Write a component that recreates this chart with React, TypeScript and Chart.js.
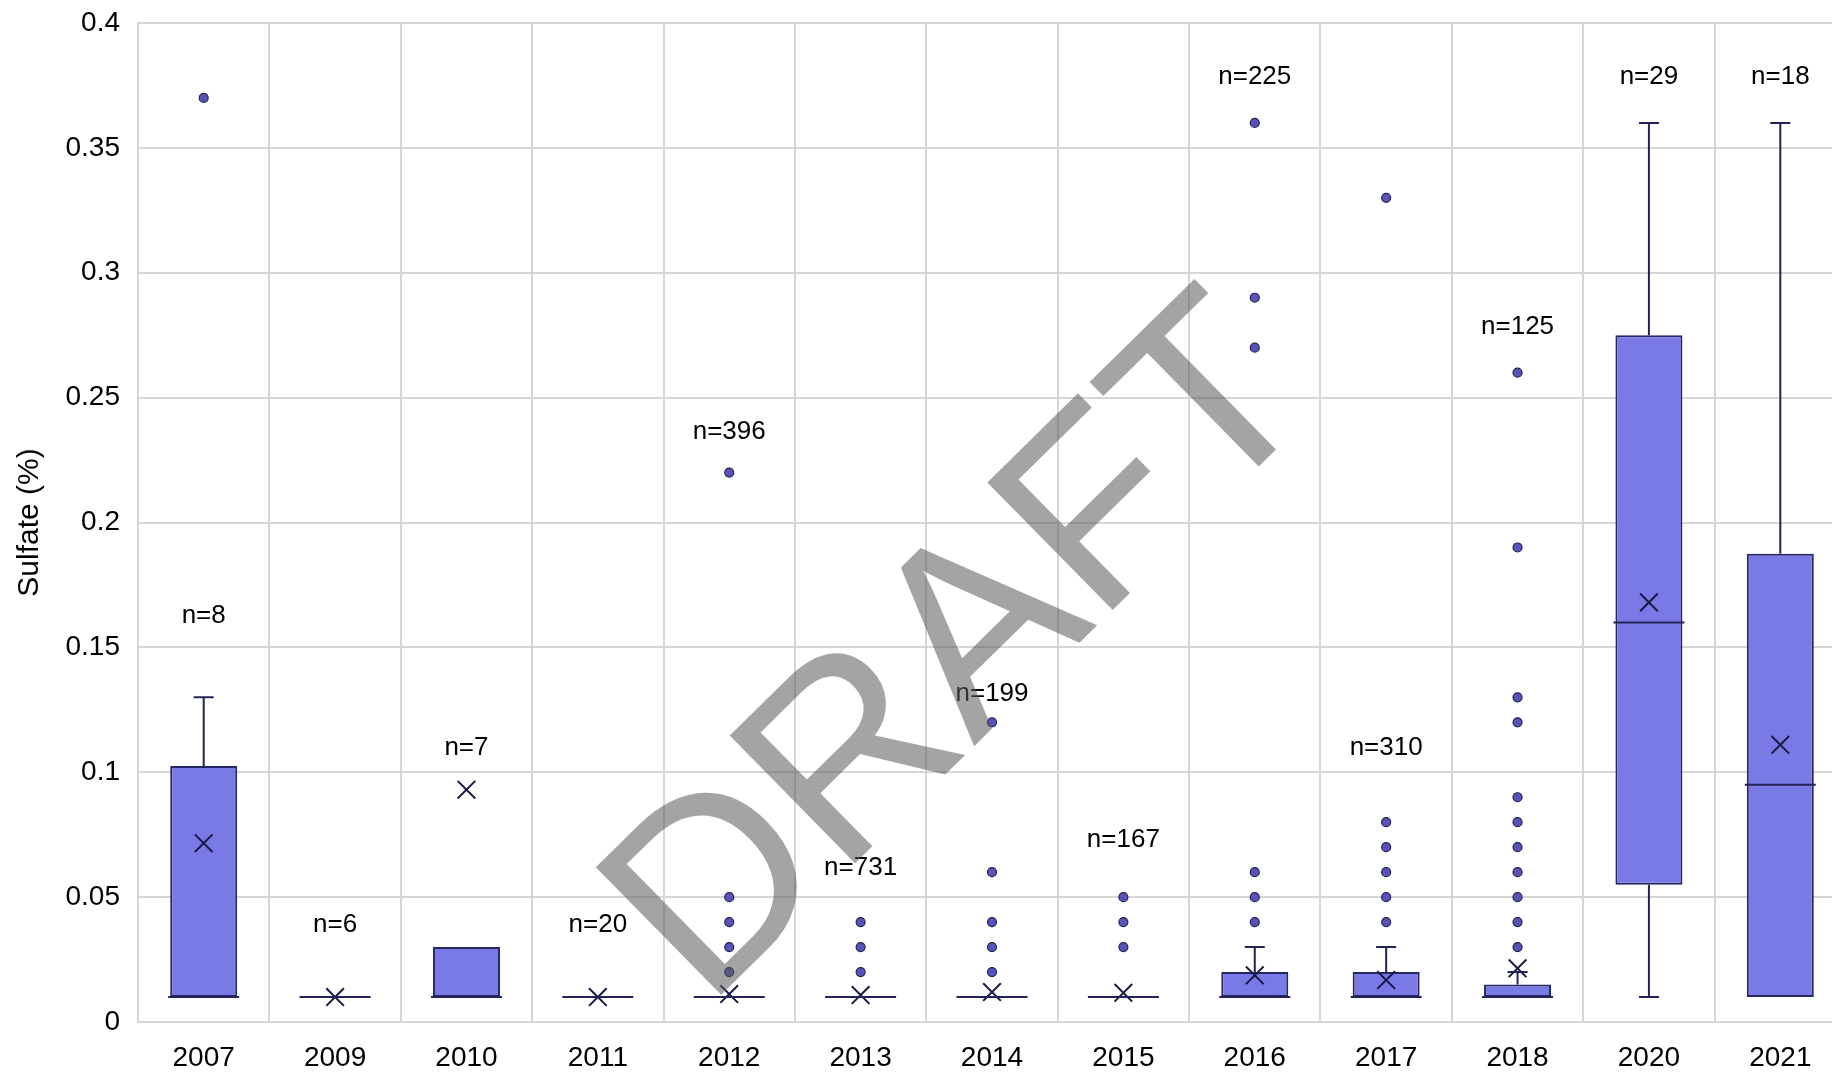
import React, { useEffect, useRef } from 'react';
import { Chart, registerables } from 'chart.js';

Chart.register(...registerables);

// ---- data ----
const categories = ['2007', '2009', '2010', '2011', '2012', '2013', '2014', '2015', '2016', '2017', '2018', '2020', '2021'];
const counts = [8, 6, 7, 20, 396, 731, 199, 167, 225, 310, 125, 29, 18];
const whiskerLow = [0.01, 0.01, 0.01, 0.01, 0.01, 0.01, 0.01, 0.01, 0.01, 0.01, 0.01, 0.01, 0.01];
const q1 = [0.01, 0.01, 0.01, 0.01, 0.01, 0.01, 0.01, 0.01, 0.01, 0.01, 0.01, 0.055, 0.01];
const medians = [0.01, 0.01, 0.01, 0.01, 0.01, 0.01, 0.01, 0.01, 0.01, 0.01, 0.01, 0.16, 0.095];
const q3 = [0.1025, 0.01, 0.03, 0.01, 0.01, 0.01, 0.01, 0.01, 0.02, 0.02, 0.015, 0.275, 0.1875];
const whiskerHigh = [0.13, 0.01, 0.03, 0.01, 0.01, 0.01, 0.01, 0.01, 0.03, 0.03, 0.02, 0.36, 0.36];
const means = [0.0716, 0.01, 0.093, 0.01, 0.0112, 0.0108, 0.012, 0.0117, 0.0187, 0.0168, 0.0215, 0.168, 0.111];
const outliers = [
  [0.37],
  [],
  [],
  [],
  [0.02, 0.03, 0.04, 0.05, 0.22],
  [0.02, 0.03, 0.04],
  [0.02, 0.03, 0.04, 0.06, 0.12],
  [0.03, 0.04, 0.05],
  [0.04, 0.05, 0.06, 0.27, 0.29, 0.36],
  [0.04, 0.05, 0.06, 0.07, 0.08, 0.33],
  [0.03, 0.04, 0.05, 0.06, 0.07, 0.08, 0.09, 0.12, 0.13, 0.19, 0.26],
  [],
  [],
];
// value (in % units) at which each "n=" annotation is centred
const countLabelAt = [0.1625, 0.039, 0.1097, 0.039, 0.2364, 0.0616, 0.1316, 0.0728, 0.3784, 0.1097, 0.2784, 0.3784, 0.3784];
const yAxisTitle = 'Sulfate (%)';
const watermarkText = 'DRAFT';

// ---- styles ----
const FONT = '"Liberation Sans", Arial, Helvetica, sans-serif';
const GRID = 'rgb(214,214,214)';
const BOX_FILL = 'rgb(122,122,230)';
const BOX_BORDER = 'rgb(38,38,100)';
const WHISKER = 'rgb(35,35,90)';

export default function App() {
  const ref = useRef<HTMLCanvasElement>(null);

  useEffect(() => {
    if (!ref.current) return;

    const boxParts = {
      id: 'boxParts',
      afterDatasetsDraw(chart: any) {
        const { ctx } = chart;
        const x = chart.scales.x;
        const y = chart.scales.y;
        const barMeta = chart.getDatasetMeta(0);
        ctx.save();
        ctx.strokeStyle = WHISKER;
        ctx.lineWidth = 2;
        const capHalf = 10;
        categories.forEach((c, i) => {
          const cx = x.getPixelForValue(i);
          const half = barMeta.data[i].width / 2;
          if (whiskerHigh[i] > q3[i]) {
            const y0 = y.getPixelForValue(q3[i]);
            const y1 = y.getPixelForValue(whiskerHigh[i]);
            ctx.beginPath();
            ctx.moveTo(cx, y0);
            ctx.lineTo(cx, y1);
            ctx.moveTo(cx - capHalf, y1);
            ctx.lineTo(cx + capHalf, y1);
            ctx.stroke();
          }
          if (whiskerLow[i] < q1[i]) {
            const y0 = y.getPixelForValue(q1[i]);
            const y1 = y.getPixelForValue(whiskerLow[i]);
            ctx.beginPath();
            ctx.moveTo(cx, y0);
            ctx.lineTo(cx, y1);
            ctx.moveTo(cx - capHalf, y1);
            ctx.lineTo(cx + capHalf, y1);
            ctx.stroke();
          }
          const ym = y.getPixelForValue(medians[i]);
          ctx.beginPath();
          ctx.moveTo(cx - half - 2, ym);
          ctx.lineTo(cx + half + 2, ym);
          ctx.stroke();
        });
        ctx.fillStyle = '#000';
        ctx.font = `26px ${FONT}`;
        ctx.textAlign = 'center';
        ctx.textBaseline = 'middle';
        categories.forEach((c, i) => {
          const cx = x.getPixelForValue(i);
          ctx.fillText(`n=${counts[i]}`, cx, y.getPixelForValue(countLabelAt[i]));
        });
        ctx.restore();
      },
    };

    const watermark = {
      id: 'watermark',
      afterDraw(chart: any) {
        const { ctx } = chart;
        ctx.save();
        ctx.translate(1015, 706);
        ctx.rotate((-44.5 * Math.PI) / 180);
        ctx.font = `260px ${FONT}`;
        ctx.fillStyle = 'rgba(90,90,90,0.55)';
        ctx.textAlign = 'center';
        ctx.textBaseline = 'alphabetic';
        ctx.fillText(watermarkText, 0, 0);
        ctx.restore();
      },
    };

    const outlierPoints = categories.flatMap((c, i) => outliers[i].map((v) => ({ x: c, y: v })));
    const meanPoints = categories.map((c, i) => ({ x: c, y: means[i] }));

    const chart = new Chart(ref.current, {
      type: 'bar',
      data: {
        labels: categories,
        datasets: [
          {
            type: 'bar',
            data: categories.map((c, i) => [q1[i], q3[i]]) as any,
            backgroundColor: BOX_FILL,
            borderColor: BOX_BORDER,
            borderWidth: 2,
            borderSkipped: false,
            barPercentage: 0.51,
            categoryPercentage: 1,
            order: 3,
          } as any,
          {
            type: 'line',
            data: outlierPoints as any,
            showLine: false,
            pointStyle: 'circle',
            pointRadius: 4.5,
            pointBackgroundColor: 'rgb(88,82,185)',
            pointBorderColor: 'rgb(35,35,80)',
            pointBorderWidth: 1.2,
            order: 2,
          } as any,
          {
            type: 'line',
            data: meanPoints as any,
            showLine: false,
            pointStyle: 'crossRot',
            pointRadius: 12.5,
            pointBorderColor: 'rgb(25,25,70)',
            pointBorderWidth: 2,
            order: 1,
          } as any,
        ],
      },
      options: {
        responsive: false,
        animation: false,
        layout: { padding: { top: 23, right: 34, left: 0, bottom: 0 } },
        plugins: {
          legend: { display: false },
          tooltip: { enabled: false },
        },
        scales: {
          x: {
            type: 'category',
            offset: true,
            grid: { offset: true, color: GRID, lineWidth: 2, drawTicks: false },
            border: { color: GRID, width: 2 },
            ticks: { color: '#000', font: { family: FONT, size: 28 }, padding: 19, maxRotation: 0, autoSkip: false },
            afterFit: (s: any) => {
              s.height = 52;
              s.paddingLeft = 0;
              s.paddingRight = 0;
            },
          },
          y: {
            min: 0,
            max: 0.4,
            grid: { color: GRID, lineWidth: 2, drawTicks: false },
            border: { color: GRID, width: 2 },
            ticks: {
              stepSize: 0.05,
              color: '#000',
              font: { family: FONT, size: 28 },
              padding: 18,
              callback: (v: any) => String(Number(Number(v).toFixed(2))),
            },
            title: {
              display: true,
              text: yAxisTitle,
              color: '#000',
              font: { family: FONT, size: 30 },
              padding: { top: 12, bottom: 0 },
            },
            afterFit: (s: any) => {
              s.width = 138;
              s.paddingTop = 0;
              s.paddingBottom = 0;
            },
          },
        },
      },
      plugins: [boxParts, watermark],
    });

    return () => chart.destroy();
  }, []);

  return (
    <div
      style={{
        position: 'fixed',
        left: 0,
        top: 0,
        width: 1832,
        height: 1074,
        overflow: 'hidden',
        background: '#fff',
      }}
    >
      <canvas ref={ref} width={1880} height={1074} style={{ display: 'block' }} />
    </div>
  );
}
